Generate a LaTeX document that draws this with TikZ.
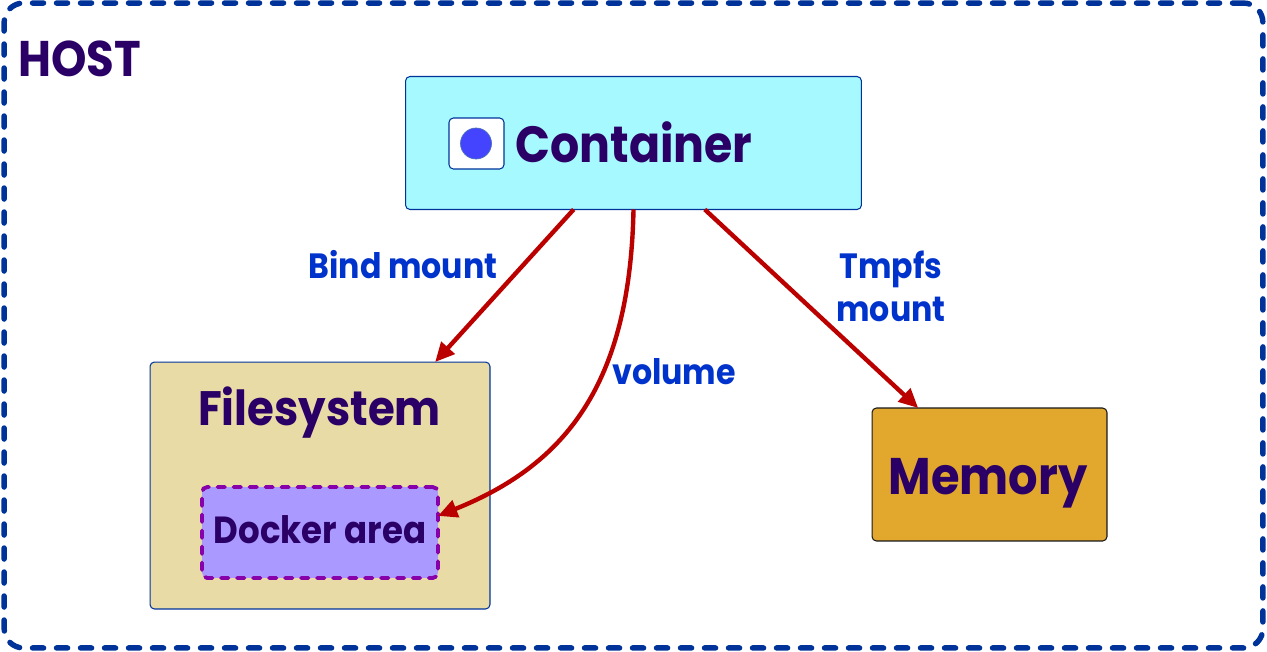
\documentclass[tikz,border=0pt]{standalone}
\usepackage{fontspec}
\setmainfont{Poppins}[FakeStretch=0.9]
\usepackage{tikz}
\usetikzlibrary{arrows.meta}
\definecolor{TitleColor}{RGB}{42,0,102}
\definecolor{LabelColor}{RGB}{0,51,204}
\definecolor{BorderColor}{RGB}{0,51,153}
\definecolor{RayColor}{RGB}{187,0,0}
\definecolor{ContainerColor}{RGB}{166,249,255}
\definecolor{FilesColor}{RGB}{233,219,165}
\definecolor{MemoryColor}{RGB}{226,168,46}
\definecolor{DockerColor}{RGB}{170,153,255}
\definecolor{DockerEdge}{RGB}{136,0,170}
\definecolor{DotColor}{RGB}{68,68,255}
\tikzset{
  hostbox/.style={rectangle, draw=BorderColor, rounded corners=11pt, line width=3.1pt, line cap=round, dash pattern=on 6.3pt off 7.36pt, minimum width=25.18cm, minimum height=12.9cm, outer sep=0pt},
  box/.style={rectangle, draw=BorderColor, rounded corners=2.5pt, line width=0.6pt, outer sep=0pt},
  dockerbox/.style={rectangle, draw=DockerEdge, fill=DockerColor, rounded corners=3pt, line width=2.2pt, line cap=round, dash pattern=on 4.2pt off 4.9pt, outer sep=0pt},
  title/.style={text=TitleColor, inner sep=0pt, font=\bfseries},
  link label/.style={text=LabelColor, inner sep=0pt, align=center, font=\bfseries\fontsize{20}{24.5}\selectfont},
  mount/.style={-{Triangle[length=11pt,width=10pt]}, line width=2.5pt, RayColor}
}
\begin{document}
\begin{tikzpicture}[x=0.02cm, y=-0.02cm]
  \useasboundingbox (0,0) rectangle (1267,652);

  % Host
  \node[hostbox] (host) at (633.5,325.5) {};
  \node[title, anchor=base west, font=\bfseries\fontsize{28.5}{32}\selectfont] (hosttitle) at (18,76.5) {HOST};

  % Container
  \node[box, fill=ContainerColor, minimum width=9.12cm, minimum height=2.66cm] (container) at (633.5,143) {};
  \node[box, fill=white, minimum width=1.1cm, minimum height=1.02cm] (icon) at (476.5,143.5) {};
  \node[circle, draw=BorderColor!70, fill=DotColor, line width=0.4pt, minimum size=0.62cm, inner sep=0pt] (dot) at (476,143.5) {};
  \node[title, anchor=base west, font=\bfseries\fontsize{29}{34}\selectfont] (containertitle) at (515,162) {Container};

  % Filesystem
  \node[box, fill=FilesColor, minimum width=6.8cm, minimum height=4.94cm] (files) at (320,485.5) {};
  \node[title, anchor=base, font=\bfseries\fontsize{27.5}{32}\selectfont] (filestitle) at (319.5,425) {Filesystem};
  \node[dockerbox, minimum width=4.72cm, minimum height=1.82cm] (docker) at (320,532.5) {};
  \node[title, anchor=base, font=\bfseries\fontsize{21.5}{26}\selectfont] (dockertitle) at (320,543) {Docker area};

  % Memory
  \node[box, draw=black!90, fill=MemoryColor, minimum width=4.7cm, minimum height=2.66cm] (memory) at (989.5,474.5) {};
  \node[title, anchor=base, font=\bfseries\fontsize{29.3}{34}\selectfont] (memorytitle) at (988,494) {Memory};

  % Mounts
  \draw[mount] (container.228) -- (files.47.5);
  \draw[mount] (container.south) .. controls (630,385) and (565,465) .. (docker.8);
  \draw[mount] (container.-43.5) -- (memory.137.4);

  % Labels
  \node[link label] (bind) at (403,265) {Bind mount};
  \node[link label] (volume) at (674,371.5) {volume};
  \node[link label] (tmpfs) at (891,286) {Tmpfs\\mount};
\end{tikzpicture}
\end{document}
